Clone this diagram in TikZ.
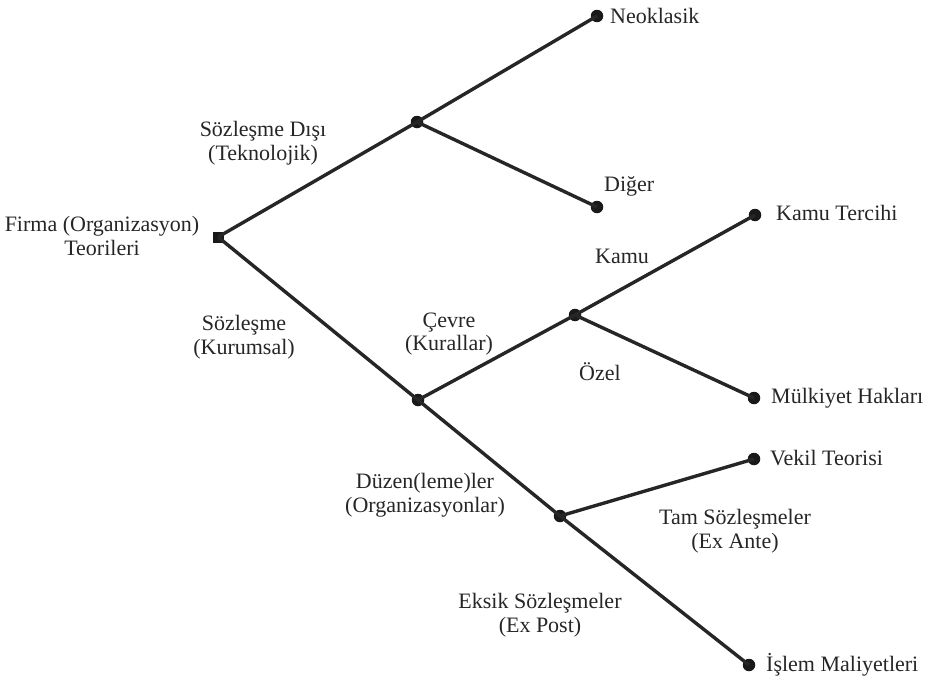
\documentclass[tikz,border=0pt]{standalone}
\usepackage{fontspec}
\setmainfont{Liberation Serif}
\begin{document}
\begin{tikzpicture}[x=1pt,y=-1pt,
  dot/.style={circle,fill=black!90,inner sep=0pt,minimum size=12.5pt},
  sq/.style={rectangle,fill=black!90,inner sep=0pt,minimum size=11pt},
  edge/.style={line width=3.4pt,draw=black!85},
  lbl/.style={font=\fontsize{22}{23.5}\selectfont,text=black!85,inner sep=0pt,align=center},
  lbll/.style={lbl,anchor=west}]
\useasboundingbox (0,0) rectangle (934,680);
% points
\node[sq]  (root) at (218,237) {};
\node[dot] (up)   at (417,122) {};
\node[dot] (neo)  at (597,16) {};
\node[dot] (dig)  at (597,207) {};
\node[dot] (low)  at (418,400) {};
\node[dot] (cev)  at (575,315) {};
\node[dot] (kt)   at (755,215) {};
\node[dot] (mh)   at (754,398) {};
\node[dot] (duz)  at (560,516) {};
\node[dot] (vt)   at (754,459) {};
\node[dot] (im)   at (749,665) {};
% connectors
\draw[edge] (root.center) -- (up.center);
\draw[edge] (up.center) -- (neo.center);
\draw[edge] (up.center) -- (dig.center);
\draw[edge] (root.center) -- (low.center);
\draw[edge] (low.center) -- (cev.center);
\draw[edge] (cev.center) -- (kt.center);
\draw[edge] (cev.center) -- (mh.center);
\draw[edge] (low.center) -- (duz.center);
\draw[edge] (duz.center) -- (vt.center);
\draw[edge] (duz.center) -- (im.center);
% labels
\node[lbl] (lroot) at (102,236) {Firma (Organizasyon)\\Teorileri};
\node[lbl] (lup) at (263,143) {Sözleşme Dışı\\(Teknolojik)};
\node[lbl] (llow) at (244,337) {Sözleşme\\(Kurumsal)};
\node[lbll] (lneo) at (610,16) {Neoklasik};
\node[lbll] (ldig) at (604,186) {Diğer};
\node[lbll] (lkt) at (776,213) {Kamu Tercihi};
\node[lbl] (lkamu) at (622,256) {Kamu};
\node[lbl] (lcev) at (449,334) {Çevre\\(Kurallar)};
\node[lbl] (lozel) at (600,372) {Özel};
\node[lbll] (lmh) at (771,398) {Mülkiyet Hakları};
\node[lbll] (lvt) at (770,458) {Vekil Teorisi};
\node[lbl] (lduz) at (425,495) {Düzen(leme)ler\\(Organizasyonlar)};
\node[lbl] (ltam) at (735,531) {Tam Sözleşmeler\\(Ex Ante)};
\node[lbl] (leks) at (540,615) {Eksik Sözleşmeler\\(Ex Post)};
\node[lbll] (lim) at (766,665) {İşlem Maliyetleri};
\end{tikzpicture}
\end{document}
